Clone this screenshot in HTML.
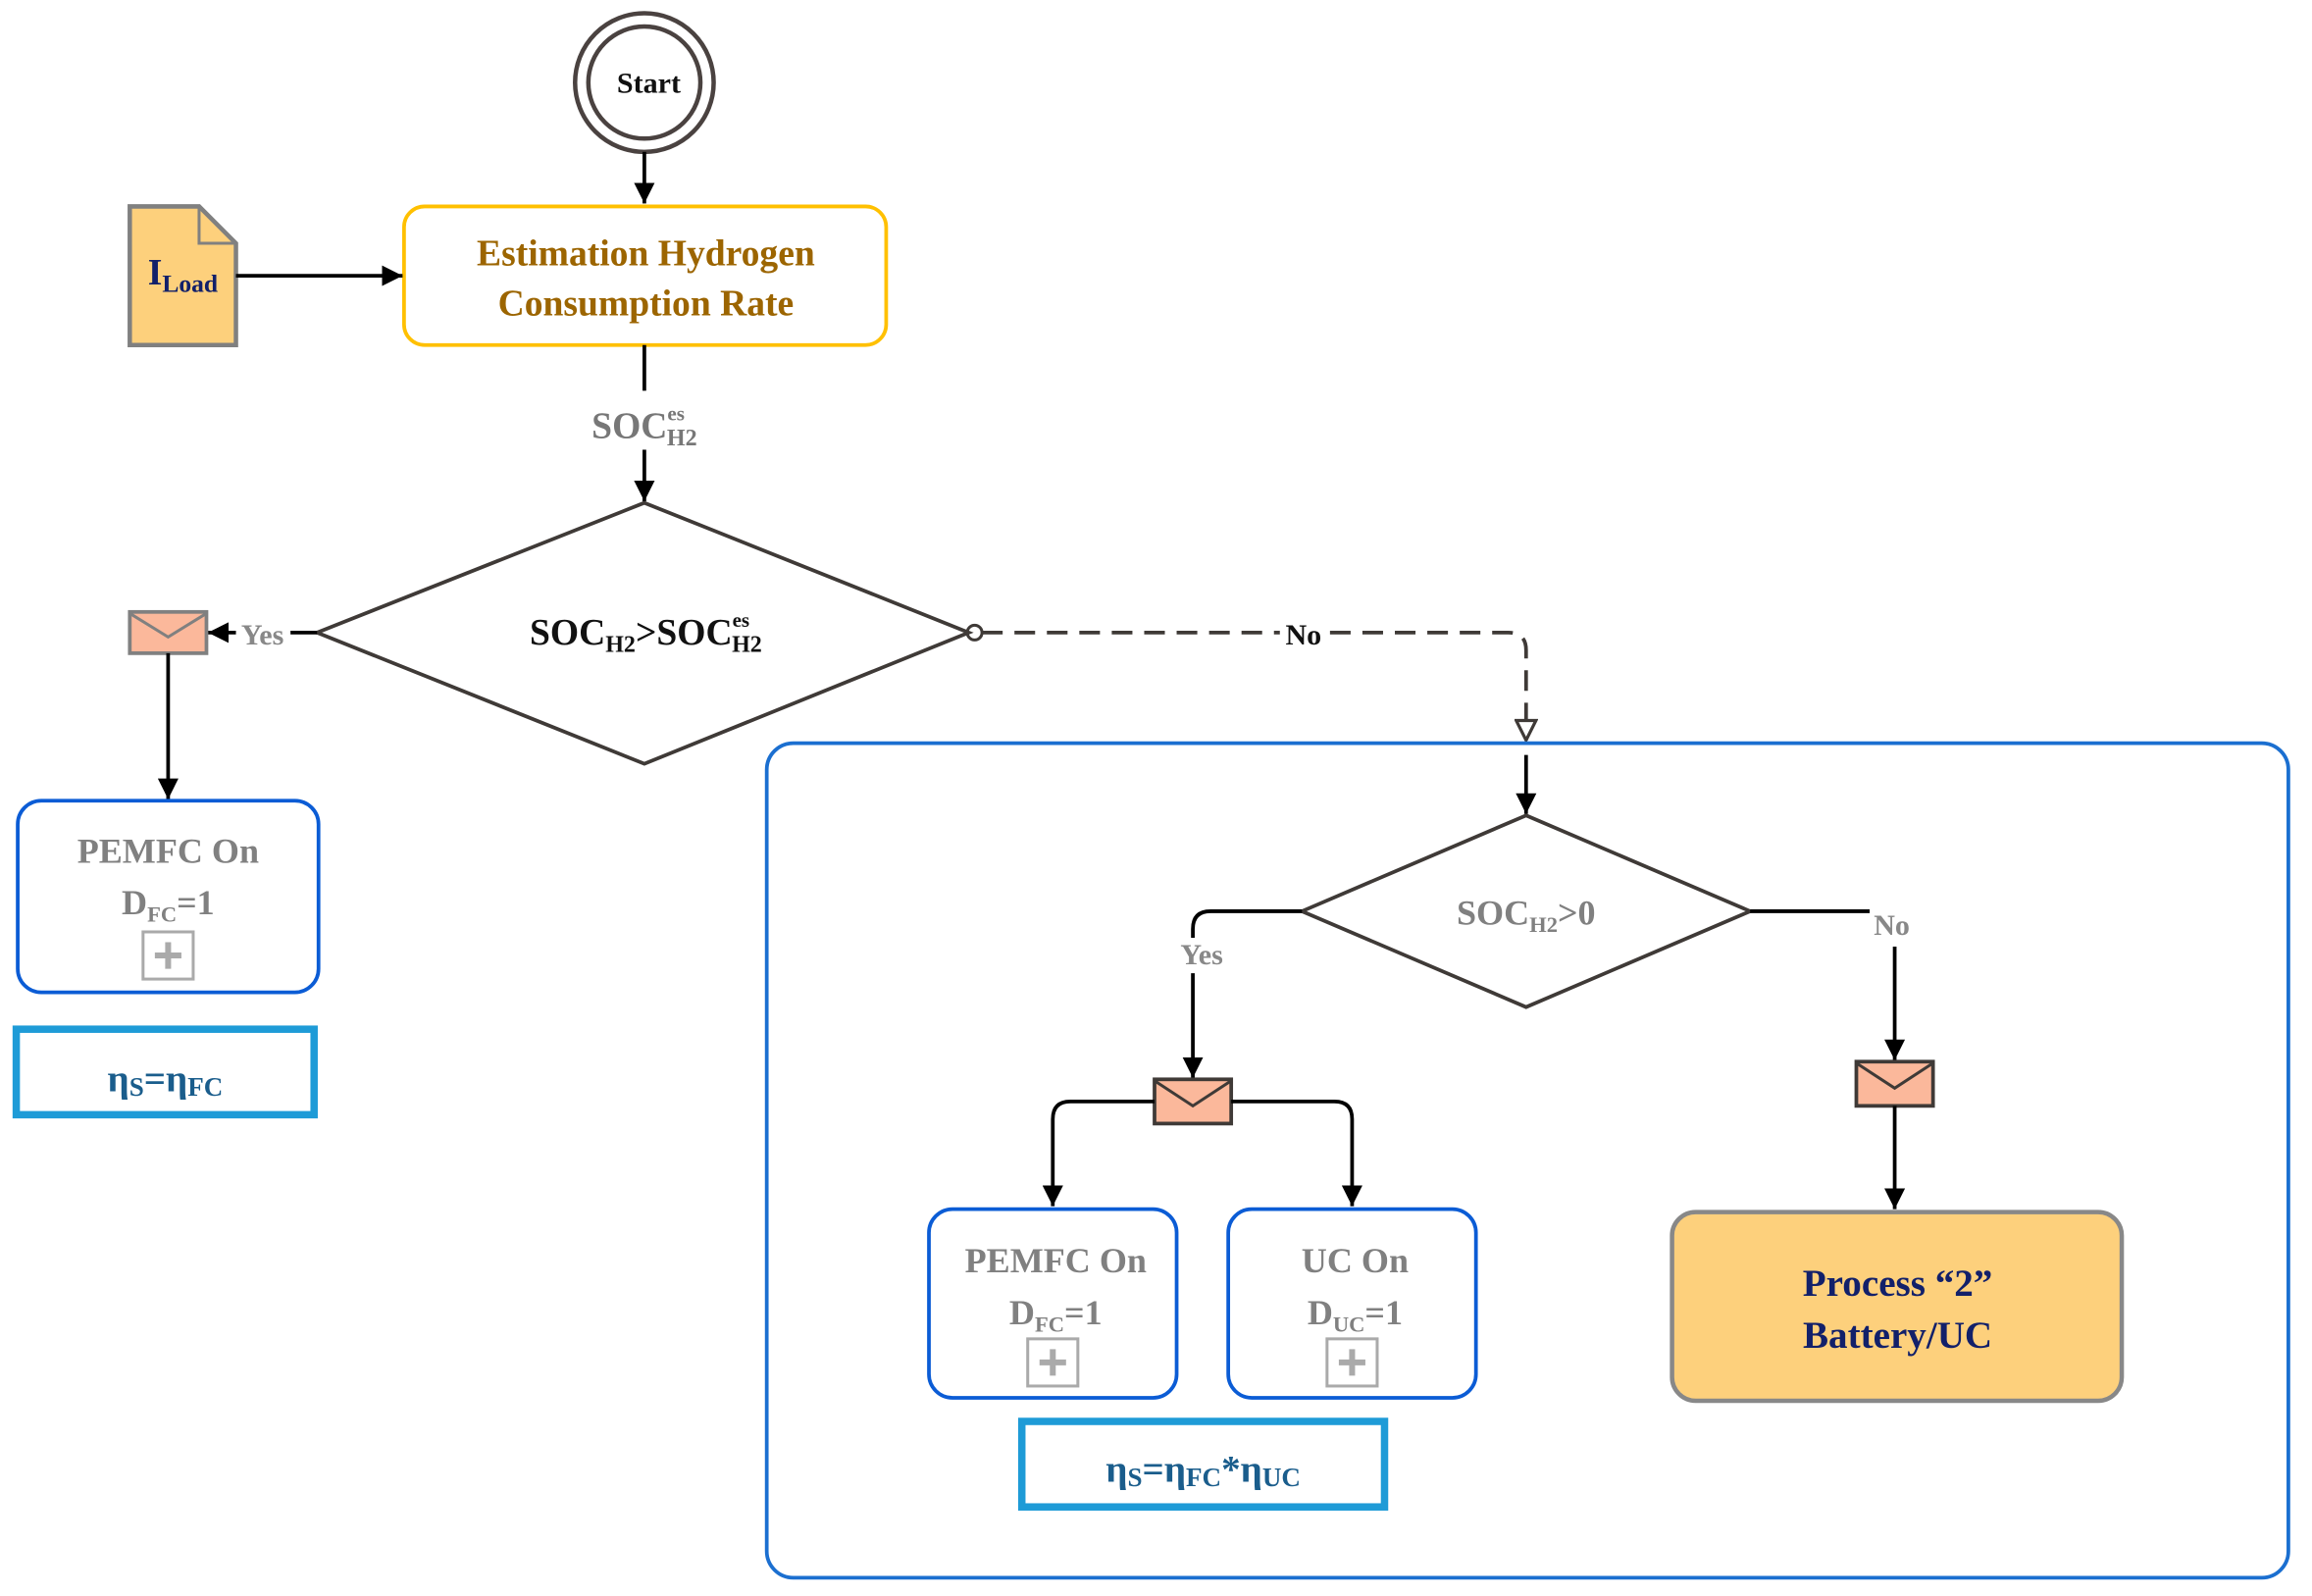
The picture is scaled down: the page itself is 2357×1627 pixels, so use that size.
<!DOCTYPE html>
<html><head><meta charset="utf-8"><style>
html,body{margin:0;padding:0;background:#fff;}
svg{display:block;}
text{font-family:"Liberation Serif",serif;font-weight:bold;}
</style></head><body>
<svg width="2357" height="1627" viewBox="0 0 1568 1082.4" xmlns="http://www.w3.org/2000/svg">
<defs>
<marker id="ab" viewBox="0 0 10 10" refX="10" refY="5" markerWidth="14" markerHeight="14" orient="auto" markerUnits="userSpaceOnUse"><path d="M0,0 L10,5 L0,10 z" fill="#000"/></marker>
<marker id="ao" viewBox="0 0 12 12" refX="11" refY="6" markerWidth="16" markerHeight="16" orient="auto" markerUnits="userSpaceOnUse"><path d="M1,1 L11,6 L1,11 z" fill="#fff" stroke="#3f3a37" stroke-width="1.6"/></marker>
</defs>
<g fill="none" stroke-width="2.5">
<circle cx="437" cy="56" r="47" stroke="#4a4240" stroke-width="3"/>
<circle cx="437" cy="56" r="38" stroke="#4a4240" stroke-width="3"/>
<line x1="437" y1="103" x2="437" y2="138" stroke="#000" marker-end="url(#ab)"/>
<rect x="274" y="140" width="327" height="94" rx="14" stroke="#FFC000"/>
<path d="M88,140 L135,140 L160,165 L160,234 L88,234 z" fill="#FDD07C" stroke="#808080" stroke-width="3"/>
<path d="M135,140 L135,165 L160,165" stroke="#808080" stroke-width="2"/>
<line x1="160" y1="187" x2="273" y2="187" stroke="#000" marker-end="url(#ab)"/>
<line x1="437" y1="234" x2="437" y2="265" stroke="#000"/>
<line x1="437" y1="305" x2="437" y2="340" stroke="#000" marker-end="url(#ab)"/>
<path d="M437,341 L657,429 L437,518 L215,429 z" stroke="#3f3a37"/>
<line x1="215" y1="429" x2="197" y2="429" stroke="#000"/>
<line x1="160" y1="429" x2="141" y2="429" stroke="#000" marker-end="url(#ab)"/>
<rect x="88" y="415" width="52" height="28" fill="#FBB89B" stroke="#808080" stroke-width="2.5"/>
<path d="M88,416 L114,432 L140,416" stroke="#808080" stroke-width="2"/>
<line x1="114" y1="443" x2="114" y2="542" stroke="#000" marker-end="url(#ab)"/>
<rect x="12" y="543" width="204" height="130" rx="16" stroke="#0B5CD5"/>
<rect x="97" y="632" width="34" height="32" stroke="#aaa" stroke-width="2"/>
<path d="M114,639 V657 M105,648 H123" stroke="#aaa" stroke-width="4"/>
<rect x="11" y="698" width="202" height="58" stroke="#1E9BD7" stroke-width="5"/>
<circle cx="661" cy="429" r="5" stroke="#3f3a37" stroke-width="2"/>
<path d="M666,429 L868,429 M902,429 L1023,429 Q1035,429 1035,441 L1035,502" stroke="#3f3a37" stroke-dasharray="14,8" marker-end="url(#ao)"/>
<rect x="520" y="504" width="1032" height="566" rx="18" stroke="#1B6FD0"/>
<line x1="1035" y1="512" x2="1035" y2="552" stroke="#000" marker-end="url(#ab)"/>
<path d="M1035,553 L1187,618 L1035,683 L883,618 z" stroke="#3f3a37"/>
<path d="M883,618 L821,618 Q809,618 809,630 L809,636" stroke="#000"/>
<line x1="809" y1="660" x2="809" y2="731" stroke="#000" marker-end="url(#ab)"/>
<line x1="1187" y1="618" x2="1268" y2="618" stroke="#000"/>
<line x1="1285" y1="642" x2="1285" y2="719" stroke="#000" marker-end="url(#ab)"/>
<rect x="783" y="732" width="52" height="30" fill="#FBB89B" stroke="#3f3a37" stroke-width="2.5"/>
<path d="M783,733 L809,750 L835,733" stroke="#3f3a37" stroke-width="2"/>
<rect x="1259" y="720" width="52" height="30" fill="#FBB89B" stroke="#3f3a37" stroke-width="2.5"/>
<path d="M1259,721 L1285,738 L1311,721" stroke="#3f3a37" stroke-width="2"/>
<path d="M783,747 L726,747 Q714,747 714,759 L714,818" stroke="#000" marker-end="url(#ab)"/>
<path d="M835,747 L905,747 Q917,747 917,759 L917,818" stroke="#000" marker-end="url(#ab)"/>
<line x1="1285" y1="750" x2="1285" y2="820" stroke="#000" marker-end="url(#ab)"/>
<rect x="630" y="820" width="168" height="128" rx="16" stroke="#0B5CD5"/>
<rect x="833" y="820" width="168" height="128" rx="16" stroke="#0B5CD5"/>
<rect x="697" y="908" width="34" height="32" stroke="#aaa" stroke-width="2"/>
<path d="M714,915 V933 M705,924 H723" stroke="#aaa" stroke-width="4"/>
<rect x="900" y="908" width="34" height="32" stroke="#aaa" stroke-width="2"/>
<path d="M917,915 V933 M908,924 H926" stroke="#aaa" stroke-width="4"/>
<rect x="693" y="964" width="246" height="58" stroke="#1E9BD7" stroke-width="5"/>
<rect x="1134" y="822" width="305" height="128" rx="16" fill="#FDD07C" stroke="#888" stroke-width="3"/>
</g>
<g text-anchor="middle">
<text x="440" y="63" font-size="20" fill="#111">Start</text>
<text x="438" y="180" font-size="25" fill="#9C6500">Estimation Hydrogen</text>
<text x="438" y="214" font-size="25" fill="#9C6500">Consumption Rate</text>
<text x="124" y="193" font-size="25" fill="#12206A">I<tspan font-size="17" dy="5">Load</tspan></text>
<text x="437" y="297" font-size="25" fill="#777">SOC<tspan font-size="14" dy="-12">es</tspan><tspan font-size="16" dy="17" dx="-12">H2</tspan></text>
<text x="438" y="437" font-size="25" fill="#111">SOC<tspan font-size="16" dy="5">H2</tspan><tspan dy="-5">&gt;SOC</tspan><tspan font-size="14" dy="-12">es</tspan><tspan font-size="16" dy="17" dx="-12">H2</tspan></text>
<text x="178" y="437" font-size="20" fill="#888" font-weight="normal">Yes</text>
<text x="114" y="585" font-size="24" fill="#808080">PEMFC On</text>
<text x="114" y="620" font-size="24" fill="#808080">D<tspan font-size="15" dy="5">FC</tspan><tspan dy="-5">=1</tspan></text>
<text x="112" y="740" font-size="26" fill="#1A5D8C">η<tspan font-size="18" dy="3">S</tspan><tspan dy="-3">=η</tspan><tspan font-size="18" dy="3">FC</tspan></text>
<text x="884" y="437" font-size="20" fill="#111" font-weight="normal">No</text>
<text x="1035" y="627" font-size="24" fill="#808080">SOC<tspan font-size="15" dy="5">H2</tspan><tspan dy="-5">&gt;0</tspan></text>
<text x="815" y="654" font-size="20" fill="#888" font-weight="normal">Yes</text>
<text x="1283" y="634" font-size="20" fill="#888" font-weight="normal">No</text>
<text x="716" y="863" font-size="24" fill="#808080">PEMFC On</text>
<text x="716" y="898" font-size="24" fill="#808080">D<tspan font-size="15" dy="5">FC</tspan><tspan dy="-5">=1</tspan></text>
<text x="919" y="863" font-size="24" fill="#808080">UC On</text>
<text x="919" y="898" font-size="24" fill="#808080">D<tspan font-size="15" dy="5">UC</tspan><tspan dy="-5">=1</tspan></text>
<text x="816" y="1005" font-size="26" fill="#1A5D8C">η<tspan font-size="18" dy="3">S</tspan><tspan dy="-3">=η</tspan><tspan font-size="18" dy="3">FC</tspan><tspan dy="-3">*η</tspan><tspan font-size="18" dy="3">UC</tspan></text>
<text x="1287" y="879" font-size="26" fill="#12206A">Process “2”</text>
<text x="1287" y="914" font-size="26" fill="#12206A">Battery/UC</text>
</g>
</svg>
</body></html>
